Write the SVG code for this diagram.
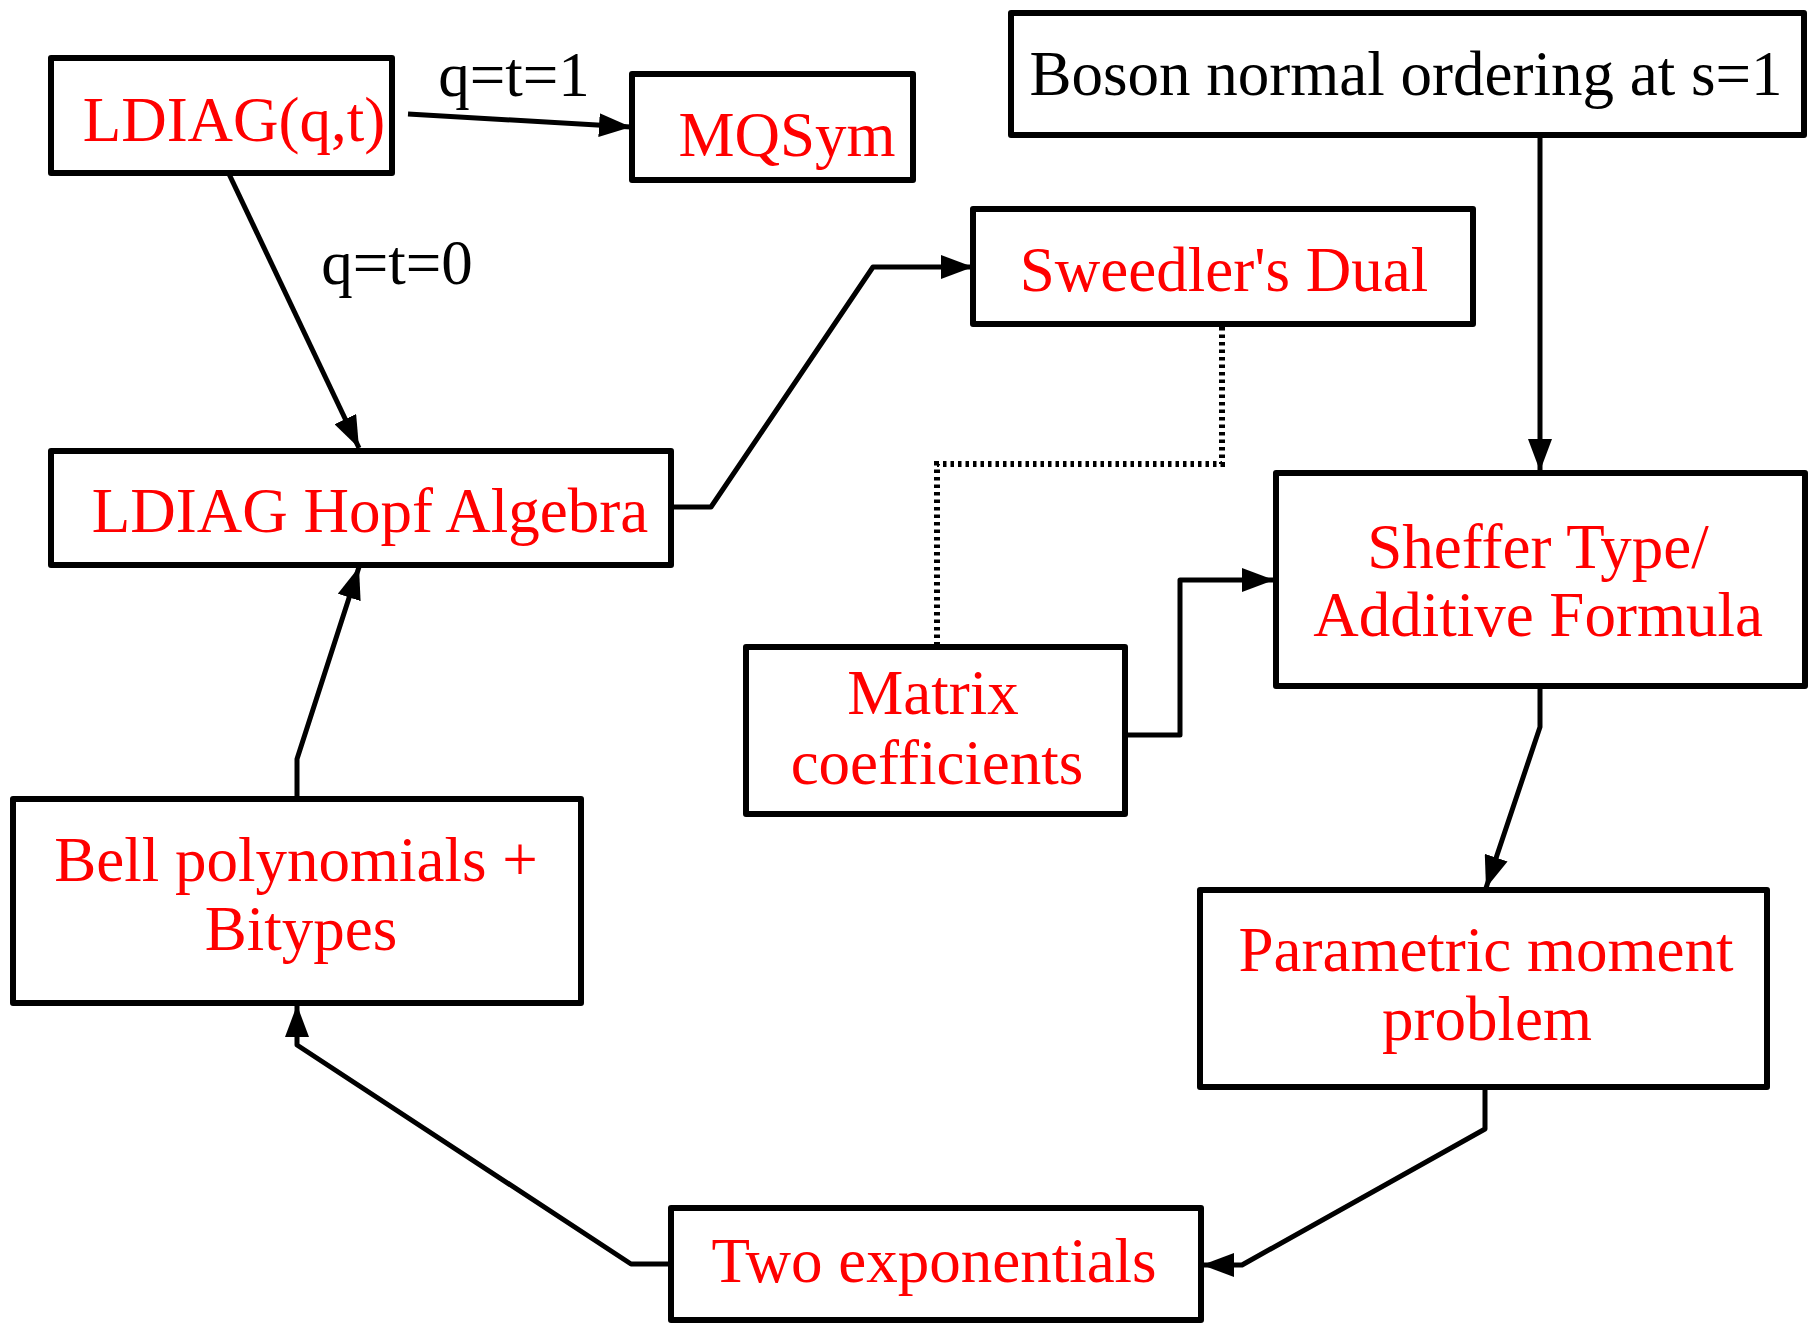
<svg xmlns="http://www.w3.org/2000/svg" width="1808" height="1323" viewBox="0 0 1808 1323">
<style>
.box{fill:#fff;stroke:#000;stroke-width:6;stroke-linejoin:round}
.t{font-family:"Liberation Serif","Times New Roman",serif;font-size:63px;fill:#ff0000;text-anchor:middle}
.k{fill:#000}
.c{fill:none;stroke:#000;stroke-width:5;stroke-linejoin:round}
.d{fill:none;stroke:#000;stroke-width:6;stroke-dasharray:3.5 4}
</style>
<defs>
<marker id="ah" markerUnits="userSpaceOnUse" markerWidth="34" markerHeight="24" refX="32" refY="12" orient="auto">
<path d="M0,0 L32,12 L0,24 Z" fill="#000"/>
</marker>
</defs>
<rect width="1808" height="1323" fill="#fff"/>
<g id="connectors">
<path class="c" d="M408,114 L631,127" marker-end="url(#ah)"/>
<path class="c" d="M229,174 L359,448" marker-end="url(#ah)"/>
<path class="c" d="M671,507 L711,507 L873,267 L973,267" marker-end="url(#ah)"/>
<path class="d" d="M1222,327 L1222,464 L937,464 L937,645"/>
<path class="c" d="M1540,135 L1540,471" marker-end="url(#ah)"/>
<path class="c" d="M1125,735 L1180,735 L1180,580 L1274,580" marker-end="url(#ah)"/>
<path class="c" d="M1540,686 L1540,727 L1486,888" marker-end="url(#ah)"/>
<path class="c" d="M1485,1087 L1485,1129 L1242,1265 L1202,1265" marker-end="url(#ah)"/>
<path class="c" d="M671,1264 L631,1264 L297,1045 L297,1005" marker-end="url(#ah)"/>
<path class="c" d="M297,799 L297,759 L359,567" marker-end="url(#ah)"/>
</g>
<g id="n-ldiagqt"><rect class="box" x="51" y="58" width="341" height="115"/><text class="t" x="234" y="141">LDIAG(q,t)</text></g>
<g id="n-mqsym"><rect class="box" x="632" y="74" width="281" height="106"/><text class="t" x="787" y="156">MQSym</text></g>
<g id="n-boson"><rect class="box" x="1011" y="13" width="793" height="122"/><text class="t k" x="1406" y="95">Boson normal ordering at s=1</text></g>
<g id="n-sweedler"><rect class="box" x="973" y="209" width="500" height="115"/><text class="t" x="1224" y="291">Sweedler's Dual</text></g>
<g id="n-hopf"><rect class="box" x="51" y="451" width="620" height="114"/><text class="t" x="370" y="532">LDIAG Hopf Algebra</text></g>
<g id="n-sheffer"><rect class="box" x="1276" y="473" width="529" height="213"/><text class="t" x="1538" y="568">Sheffer Type/</text><text class="t" x="1538" y="636">Additive Formula</text></g>
<g id="n-matrix"><rect class="box" x="746" y="647" width="379" height="167"/><text class="t" x="933" y="714">Matrix</text><text class="t" x="937" y="784">coefficients</text></g>
<g id="n-bell"><rect class="box" x="13" y="799" width="568" height="204"/><text class="t" x="296" y="881">Bell polynomials +</text><text class="t" x="301" y="950">Bitypes</text></g>
<g id="n-param"><rect class="box" x="1200" y="890" width="567" height="197"/><text class="t" x="1486" y="971">Parametric moment</text><text class="t" x="1487" y="1040">problem</text></g>
<g id="n-twoexp"><rect class="box" x="671" y="1208" width="530" height="112"/><text class="t" x="934" y="1282">Two exponentials</text></g>
<g id="labels"><text class="t k" x="514" y="96">q=t=1</text><text class="t k" x="397" y="284">q=t=0</text></g>
</svg>
